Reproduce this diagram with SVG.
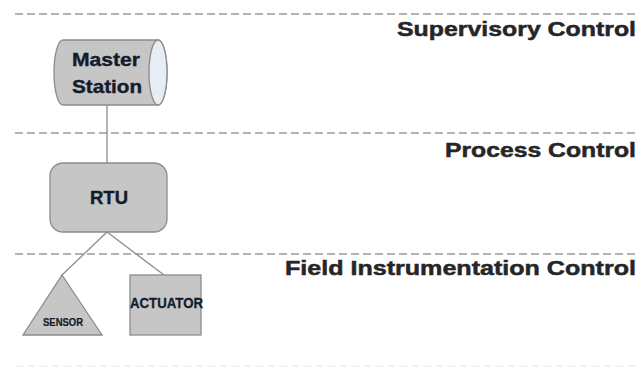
<svg xmlns="http://www.w3.org/2000/svg" width="644" height="374" viewBox="0 0 644 374">
<style>
.sep{stroke:#9a9a9a;stroke-width:1.5;stroke-dasharray:8 4;fill:none}
.node{fill:#c6c6c6;stroke:#8c8c8c;stroke-width:1.3}
.conn{stroke:#8c8c8c;stroke-width:1.3;fill:none}
.nt{font-family:"Liberation Sans",Arial,sans-serif;font-weight:bold;fill:#141c2c;stroke:#141c2c;stroke-width:0.4;text-anchor:middle}
.lbl{font-family:"Liberation Sans",Arial,sans-serif;font-weight:bold;fill:#262626;stroke:#262626;stroke-width:0.5;text-anchor:end}
</style>
<rect width="644" height="374" fill="#ffffff"/>
<g id="separators">
<line class="sep" x1="15" y1="14" x2="638" y2="14"/>
<line class="sep" x1="15" y1="133" x2="638" y2="133"/>
<line class="sep" x1="15" y1="254" x2="638" y2="254"/>
<line x1="15" y1="366" x2="638" y2="366" stroke="#eeeeee" stroke-width="1.5" stroke-dasharray="8 4"/>
</g>
<g id="labels">
<text class="lbl" x="636" y="36" font-size="21" textLength="239" lengthAdjust="spacingAndGlyphs">Supervisory Control</text>
<text class="lbl" x="636" y="157" font-size="21" textLength="191" lengthAdjust="spacingAndGlyphs">Process Control</text>
<text class="lbl" x="636" y="275" font-size="21" textLength="351" lengthAdjust="spacingAndGlyphs">Field Instrumentation Control</text>
</g>
<g id="connectors">
<line class="conn" x1="107" y1="105" x2="107" y2="163"/>
<line class="conn" x1="107" y1="232" x2="62" y2="275"/>
<line class="conn" x1="107" y1="232" x2="164" y2="275"/>
</g>
<g id="master-station">
<path class="node" d="M63,40 L158,40 A9,32.5 0 0 1 158,105 L63,105 A9,32.5 0 0 1 63,40 Z"/>
<ellipse cx="158" cy="72.5" rx="9" ry="32.5" fill="#e8ecf4" stroke="#8c8c8c" stroke-width="1.3"/>
<text class="nt" x="106" y="66" font-size="19" textLength="68" lengthAdjust="spacingAndGlyphs">Master</text>
<text class="nt" x="107" y="93" font-size="19" textLength="70" lengthAdjust="spacingAndGlyphs">Station</text>
</g>
<g id="rtu">
<rect class="node" x="50" y="163" width="117" height="69" rx="13"/>
<text class="nt" x="109" y="204" font-size="19" textLength="38" lengthAdjust="spacingAndGlyphs">RTU</text>
</g>
<g id="sensor">
<polygon class="node" points="62,275 102,335 23,335"/>
<text class="nt" x="63" y="326" font-size="10" textLength="40" lengthAdjust="spacingAndGlyphs" style="stroke-width:0.2">SENSOR</text>
</g>
<g id="actuator">
<rect class="node" x="130" y="275" width="71" height="60"/>
<text class="nt" x="166.5" y="308" font-size="14" textLength="73" lengthAdjust="spacingAndGlyphs" style="stroke-width:0.3">ACTUATOR</text>
</g>
</svg>
